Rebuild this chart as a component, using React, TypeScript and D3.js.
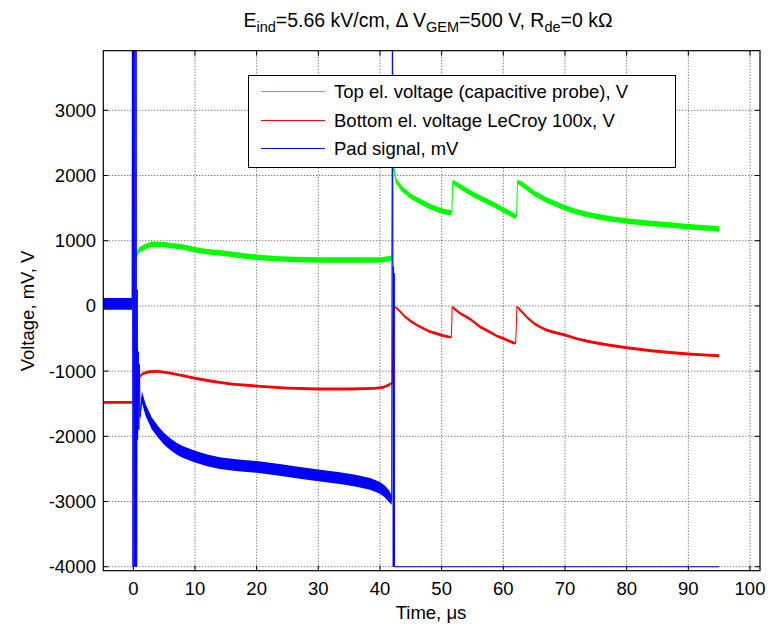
import React from "react";
import * as d3 from "d3";

type P = [number, number, number]; // [time µs, value, noise half-width]

const xTicks = [0, 10, 20, 30, 40, 50, 60, 70, 80, 90, 100];
const yTicks = [-4000, -3000, -2000, -1000, 0, 1000, 2000, 3000];
const legendLabels = [
  "Top el. voltage (capacitive probe), V",
  "Bottom el. voltage LeCroy 100x, V",
  "Pad signal, mV",
];
const seriesColors = ["#00ff00", "#ff0000", "#0000ff"];

const topElectrode: P[] = [
  [-4.9, 30, 35], [-0.1, 30, 35], [0.2, 600, 30], [0.5, 780, 40], [1, 860, 42], [2, 910, 42],
  [3, 945, 42], [5, 940, 42], [8, 905, 42], [10, 860, 42], [12, 830, 42], [15, 805, 42],
  [18, 765, 42], [20, 745, 42], [23, 725, 42], [26, 712, 42], [30, 705, 42], [35, 703, 42],
  [40, 705, 42], [41.5, 725, 42], [41.95, 735, 30], [42.05, 2250, 0], [42.15, 2150, 40],
  [42.6, 1920, 42], [43.5, 1800, 42], [45, 1680, 42], [46.5, 1600, 42], [48, 1530, 42],
  [49.5, 1470, 42], [50.5, 1445, 42], [51.5, 1430, 40], [51.65, 1440, 0], [51.8, 1905, 30],
  [52.5, 1860, 42], [54, 1770, 42], [55.5, 1690, 42], [57, 1620, 42], [58.5, 1550, 42],
  [60, 1470, 42], [61, 1420, 42], [62, 1370, 40], [62.15, 1380, 0], [62.3, 1905, 30],
  [63, 1870, 42], [64.9, 1730, 42], [67, 1625, 42], [70, 1500, 42], [72, 1440, 42],
  [74, 1395, 42], [77, 1340, 42], [80, 1302, 42], [84, 1265, 42], [87, 1240, 42],
  [90, 1215, 42], [93, 1195, 42], [95, 1180, 42],
];

const bottomElectrode: P[] = [
  [-4.9, -1480, 22], [0.3, -1480, 22], [0.45, -1550, 15], [0.6, -1250, 22], [0.9, -1100, 22],
  [1.5, -1040, 22], [2.5, -1010, 22], [4, -1005, 22], [6, -1030, 22], [8, -1070, 22],
  [10, -1110, 22], [13, -1160, 22], [16, -1200, 22], [20, -1230, 22], [25, -1260, 22],
  [30, -1275, 22], [35, -1275, 22], [39, -1265, 22], [40.5, -1250, 22], [41.5, -1210, 22],
  [42.0, -1180, 15], [42.15, -20, 0], [42.35, -10, 15], [43, -60, 22], [44, -160, 22],
  [45, -235, 22], [46, -295, 22], [47, -345, 22], [48, -390, 22], [49, -420, 22],
  [50, -450, 22], [51, -472, 22], [51.55, -485, 15], [51.65, -250, 0], [51.7, -12, 10],
  [52, -40, 22], [53, -115, 22], [54.6, -200, 22], [56.2, -320, 22], [57.8, -400, 22],
  [58.9, -460, 22], [60, -500, 22], [61.6, -565, 22], [62, -575, 15], [62.1, -330, 0],
  [62.2, -10, 10], [62.5, -40, 22], [63, -90, 22], [64, -190, 22], [65, -270, 22],
  [66, -325, 22], [67, -370, 22], [68, -400, 22], [70, -447, 22], [72, -505, 22],
  [74, -550, 22], [77, -600, 22], [80, -641, 22], [84, -688, 22], [87, -715, 22],
  [90, -738, 22], [93, -755, 22], [95, -764, 22],
];

const padSignal: P[] = [
  [-4.9, 30, 90], [-0.2, 30, 90], [-0.15, 3950, 0], [-0.05, -4000, 0], [0.05, 3950, 0],
  [0.15, -4000, 0], [0.25, 3950, 0], [0.35, -4000, 0], [0.45, 3950, 0], [0.55, -4000, 0],
  [0.62, 250, 0], [0.7, -2050, 0], [0.8, -700, 0], [0.9, -1900, 0], [1.0, -900, 0],
  [1.1, -1700, 60], [1.4, -1400, 90], [2, -1600, 90], [3, -1800, 90], [4, -1930, 90],
  [5, -2040, 90], [6, -2120, 90], [7, -2190, 90], [8, -2240, 90], [10, -2310, 90],
  [12, -2370, 90], [14, -2410, 90], [17, -2445, 90], [20, -2470, 90], [24, -2520, 90],
  [27, -2560, 90], [30, -2600, 90], [33.5, -2640, 90], [36, -2680, 90], [38.4, -2730, 90],
  [40, -2790, 90], [40.8, -2850, 90], [41.5, -2920, 90], [41.9, -2980, 70],
  [42.0, 3950, 0], [42.05, 3950, 0], [42.1, 640, 0], [42.15, -4000, 0], [42.2, 600, 0],
  [42.25, -4000, 0], [42.3, 500, 0], [42.35, -4000, 0], [95, -4000, 0],
];

const allSeries = [topElectrode, bottomElectrode, padSignal];

const FONT = "'Liberation Sans', Arial, Helvetica, sans-serif";

export default function App() {
  const W = 768;
  const H = 626;
  const left = 103.3, right = 760, top = 50.7, bottom = 570.7;
  const x = d3.scaleLinear().domain([-4.865, 101.62]).range([left, right]);
  const y = d3.scaleLinear().domain([-4061, 3914]).range([bottom, top]);
  const line = d3.line<P>().x((d) => x(d[0])).y((d) => y(d[1]));
  const area = d3
    .area<P>()
    .x((d) => x(d[0]))
    .y0((d) => y(d[1] - d[2]))
    .y1((d) => y(d[1] + d[2]));
  const tickLen = 5;
  const fs = 18.5;

  const legX = 248, legY = 75, legW = 427, legH = 92;

  return (
    <svg
      width={W}
      height={H}
      style={{ position: "absolute", left: 0, top: 0, background: "#fff" }}
      fontFamily={FONT}
    >
      <defs>
        <clipPath id="plotClip">
          <rect x={left} y={top} width={right - left} height={bottom - top} />
        </clipPath>
      </defs>
      <rect x={0} y={0} width={W} height={H} fill="#fff" />
      <rect x={left} y={top} width={right - left} height={bottom - top} fill="#fff" />

      {/* grid */}
      <g stroke="#333" strokeWidth={0.9} strokeDasharray="1,2">
        {xTicks.map((t) => (
          <line key={"gx" + t} x1={x(t)} x2={x(t)} y1={top} y2={bottom} />
        ))}
        {yTicks.map((t) => (
          <line key={"gy" + t} x1={left} x2={right} y1={y(t)} y2={y(t)} />
        ))}
      </g>

      {/* data */}
      <g clipPath="url(#plotClip)">
        {allSeries.map((s, i) => (
          <g key={"s" + i}>
            <path d={area(s) || ""} fill={seriesColors[i]} stroke="none" />
            <path d={line(s) || ""} fill="none" stroke={seriesColors[i]} strokeWidth={1} />
          </g>
        ))}
      </g>

      {/* ticks */}
      <g stroke="#000" strokeWidth={1}>
        {xTicks.map((t) => (
          <g key={"tx" + t}>
            <line x1={x(t)} x2={x(t)} y1={bottom} y2={bottom - tickLen} />
            <line x1={x(t)} x2={x(t)} y1={top} y2={top + tickLen} />
          </g>
        ))}
        {yTicks.map((t) => (
          <g key={"ty" + t}>
            <line x1={left} x2={left + tickLen} y1={y(t)} y2={y(t)} />
            <line x1={right} x2={right - tickLen} y1={y(t)} y2={y(t)} />
          </g>
        ))}
      </g>
      <rect
        x={left}
        y={top}
        width={right - left}
        height={bottom - top}
        fill="none"
        stroke="#000"
        strokeWidth={1.2}
      />

      {/* tick labels */}
      <g fontSize={fs} fill="#000">
        {xTicks.map((t) => (
          <text key={"lx" + t} x={x(t)} y={595} textAnchor="middle">
            {t}
          </text>
        ))}
        {yTicks.map((t) => (
          <text key={"ly" + t} x={96} y={y(t)} textAnchor="end" dominantBaseline="central">
            {t}
          </text>
        ))}
      </g>

      {/* axis labels */}
      <text x={431} y={619} textAnchor="middle" fontSize={fs}>
        Time, μs
      </text>
      <text
        transform={`translate(34,311) rotate(-90)`}
        textAnchor="middle"
        fontSize={fs}
      >
        Voltage, mV, V
      </text>

      {/* title */}
      <text x={428} y={27} textAnchor="middle" fontSize={19.5}>
        E<tspan dy={5} fontSize={14.5}>ind</tspan>
        <tspan dy={-5}>=5.66 kV/cm, Δ V</tspan>
        <tspan dy={5} fontSize={14.5}>GEM</tspan>
        <tspan dy={-5}>=500 V, R</tspan>
        <tspan dy={5} fontSize={14.5}>de</tspan>
        <tspan dy={-5}>=0 kΩ</tspan>
      </text>

      {/* legend */}
      <rect x={legX + 0.5} y={legY + 0.5} width={legW} height={legH} fill="#fff" stroke="#000" strokeWidth={1} />
      {legendLabels.map((lab, i) => {
        const ly = Math.round(90.7 + i * 28.8) + 0.5;
        return (
          <g key={"leg" + i}>
            <line x1={261} x2={325} y1={ly} y2={ly} stroke={seriesColors[i]} strokeWidth={1} />
            <text x={334} y={ly} fontSize={fs} dominantBaseline="central">
              {lab}
            </text>
          </g>
        );
      })}
    </svg>
  );
}
